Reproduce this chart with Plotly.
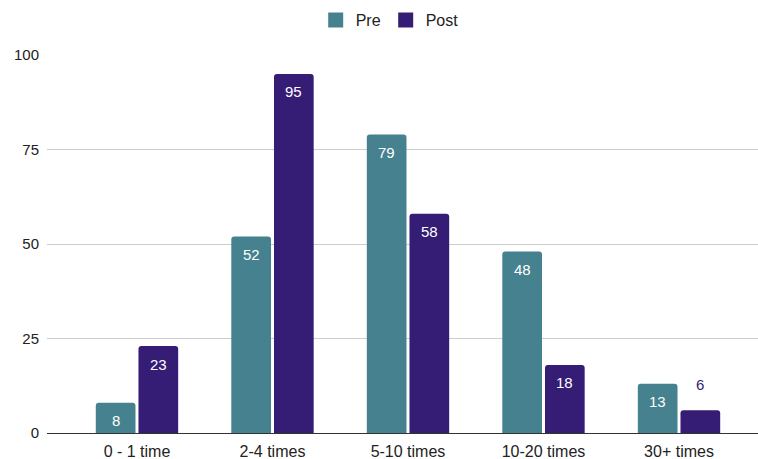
import plotly.graph_objects as go

categories = ["0 - 1 time", "2-4 times", "5-10 times", "10-20 times", "30+ times"]
pre_values = [8, 52, 79, 48, 13]
post_values = [23, 95, 58, 18, 6]
y_ticks = [0, 25, 50, 75, 100]

PRE_COLOR = "#45818e"
POST_COLOR = "#351c75"
FONT = "Arial, 'Liberation Sans', sans-serif"
BARGAP = 0.37
MIN_INSIDE = 7  # bars shorter than this get their label above the bar

series = [("Pre", pre_values, PRE_COLOR), ("Post", post_values, POST_COLOR)]

fig = go.Figure()
for name, vals, color in series:
    fig.add_trace(go.Bar(
        name=name,
        x=categories,
        y=vals,
        marker=dict(color=color, cornerradius=3, line=dict(width=0)),
        showlegend=False,
        legendgroup=name,
        hovertemplate="%{x}: %{y}<extra>" + name + "</extra>",
    ))

# legend keys drawn as larger rounded squares
for name, vals, color in series:
    fig.add_trace(go.Scatter(
        name=name,
        x=[None],
        y=[None],
        mode="markers",
        legendgroup=name,
        marker=dict(symbol="square", size=15, color=color, line=dict(width=0)),
        showlegend=True,
    ))

# value labels: centred on each bar of the group, just under its top
half_group = (1 - BARGAP) / 2
for k, (name, vals, color) in enumerate(series):
    centre_offset = -half_group / 2 + k * half_group
    for i, v in enumerate(vals):
        inside = v >= MIN_INSIDE
        fig.add_annotation(
            x=i + centre_offset,
            y=v,
            xref="x",
            yref="y",
            text=str(v),
            showarrow=False,
            yanchor="middle",
            yshift=-18 if inside else 26,
            font=dict(size=15, family=FONT, color="#ffffff" if inside else color),
        )

fig.update_layout(
    width=758,
    height=459,
    margin=dict(l=47, r=0, t=55, b=26),
    paper_bgcolor="white",
    plot_bgcolor="white",
    font=dict(family=FONT, size=15, color="#222222"),
    barmode="group",
    bargap=BARGAP,
    bargroupgap=0.07,
    showlegend=True,
    legend=dict(
        orientation="h",
        x=0.482,
        xanchor="center",
        y=0.956,
        yanchor="middle",
        yref="container",
        font=dict(size=16, family=FONT, color="#222222"),
        traceorder="normal",
    ),
    xaxis=dict(
        range=[-0.664, 4.583],
        showgrid=False,
        showline=False,
        ticks="",
        ticklabelstandoff=7,
        tickfont=dict(size=16, color="#222222", family=FONT),
        zeroline=False,
    ),
    yaxis=dict(
        range=[0, 100],
        tickvals=y_ticks,
        showgrid=True,
        gridcolor="#cccccc",
        gridwidth=1,
        zeroline=True,
        zerolinecolor="#333333",
        zerolinewidth=1,
        ticks="",
        ticklabelstandoff=7,
        tickfont=dict(size=15, color="#222222", family=FONT),
    ),
)

fig.write_html("out.html")
